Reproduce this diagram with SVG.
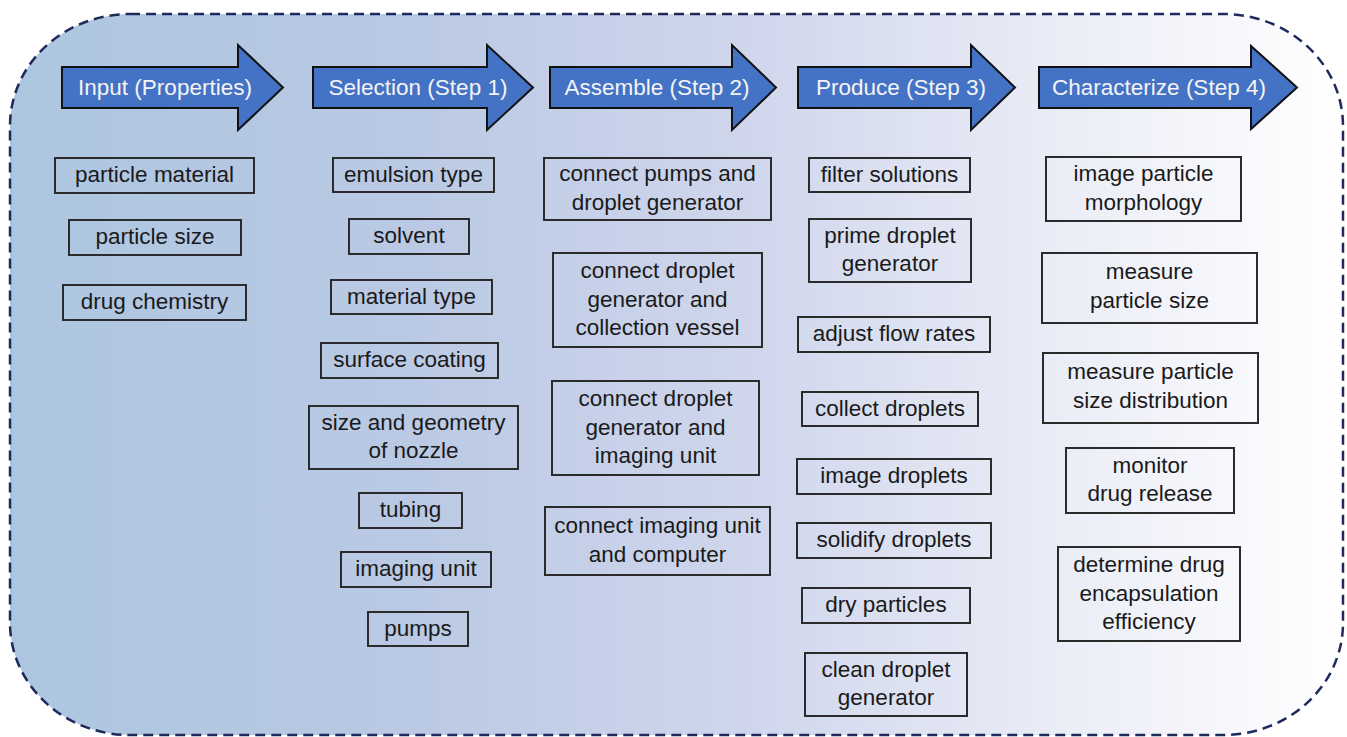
<svg xmlns="http://www.w3.org/2000/svg" width="1347" height="737" viewBox="0 0 1347 737">
<defs>
<linearGradient id="bg" x1="0" y1="0" x2="1" y2="0">
<stop offset="0" stop-color="#adc6e0"/>
<stop offset="0.3" stop-color="#bac9e4"/>
<stop offset="0.55" stop-color="#cfd6ec"/>
<stop offset="0.8" stop-color="#eceef7"/>
<stop offset="1" stop-color="#ffffff"/>
</linearGradient>
</defs>
<style>
.frame{fill:url(#bg);stroke:#1e2a5c;stroke-width:2.5;stroke-dasharray:10 6}
.arrow{fill:#4472c4;stroke:#111111;stroke-width:2;stroke-linejoin:miter}
.atxt{font-family:"Liberation Sans",Arial,sans-serif;font-size:22.5px;fill:#f4f4f4;text-anchor:middle}
.box{fill:none;stroke:#2b2b2b;stroke-width:2}
.btxt{font-family:"Liberation Sans",Arial,sans-serif;font-size:22.5px;fill:#1a1a1a;text-anchor:middle}
</style>
<rect width="1347" height="737" fill="#ffffff"/>
<rect class="frame" x="10" y="14" width="1333" height="721" rx="120" ry="112"/>
<g id="connectors"/>
<g id="step-input"><path class="arrow" d="M62,67 H238 V45 L283,87.5 L238,130 V108 H62 Z"/><text class="atxt" x="165" y="95">Input (Properties)</text></g>
<g id="step-selection"><path class="arrow" d="M313,67 H487 V45 L533,87.5 L487,130 V108 H313 Z"/><text class="atxt" x="418" y="95">Selection (Step 1)</text></g>
<g id="step-assemble"><path class="arrow" d="M550,67 H732 V45 L776,87.5 L732,130 V108 H550 Z"/><text class="atxt" x="657" y="95">Assemble (Step 2)</text></g>
<g id="step-produce"><path class="arrow" d="M798,67 H971 V45 L1015,87.5 L971,130 V108 H798 Z"/><text class="atxt" x="901" y="95">Produce (Step 3)</text></g>
<g id="step-characterize"><path class="arrow" d="M1039,67 H1251 V46 L1297,87.5 L1251,129 V108 H1039 Z"/><text class="atxt" x="1159" y="95">Characterize (Step 4)</text></g>

<g id="particle-material"><rect class="box" x="55" y="158" width="199" height="35"/><text class="btxt" x="154.5" y="182">particle material</text></g>
<g id="particle-size"><rect class="box" x="69" y="220" width="172" height="35"/><text class="btxt" x="155" y="244">particle size</text></g>
<g id="drug-chemistry"><rect class="box" x="63" y="285" width="183" height="35"/><text class="btxt" x="154.5" y="309">drug chemistry</text></g>

<g id="emulsion-type"><rect class="box" x="333" y="158" width="161" height="34"/><text class="btxt" x="413.5" y="181.5">emulsion type</text></g>
<g id="solvent"><rect class="box" x="349" y="219" width="120" height="35"/><text class="btxt" x="409" y="243">solvent</text></g>
<g id="material-type"><rect class="box" x="331" y="280" width="161" height="34"/><text class="btxt" x="411.5" y="303.5">material type</text></g>
<g id="surface-coating"><rect class="box" x="321" y="343" width="177" height="35"/><text class="btxt" x="409.5" y="367">surface coating</text></g>
<g id="nozzle"><rect class="box" x="309" y="406" width="209" height="63"/><text class="btxt" x="413.5" y="429.5">size and geometry</text><text class="btxt" x="413.5" y="458">of nozzle</text></g>
<g id="tubing"><rect class="box" x="359" y="493" width="103" height="35"/><text class="btxt" x="410.5" y="517">tubing</text></g>
<g id="imaging-unit"><rect class="box" x="341" y="552" width="150" height="35"/><text class="btxt" x="416" y="576">imaging unit</text></g>
<g id="pumps"><rect class="box" x="368" y="612" width="100" height="34"/><text class="btxt" x="418" y="635.5">pumps</text></g>

<g id="connect-pumps"><rect class="box" x="544" y="158" width="227" height="62"/><text class="btxt" x="657.5" y="181.25">connect pumps and</text><text class="btxt" x="657.5" y="209.75">droplet generator</text></g>
<g id="connect-collection"><rect class="box" x="553" y="253" width="209" height="94"/><text class="btxt" x="657.5" y="278">connect droplet</text><text class="btxt" x="657.5" y="306.5">generator and</text><text class="btxt" x="657.5" y="335">collection vessel</text></g>
<g id="connect-imaging"><rect class="box" x="552" y="381" width="207" height="94"/><text class="btxt" x="655.5" y="406">connect droplet</text><text class="btxt" x="655.5" y="434.5">generator and</text><text class="btxt" x="655.5" y="463">imaging unit</text></g>
<g id="connect-computer"><rect class="box" x="545" y="507" width="225" height="68"/><text class="btxt" x="657.5" y="533.25">connect imaging unit</text><text class="btxt" x="657.5" y="561.75">and computer</text></g>

<g id="filter-solutions"><rect class="box" x="809" y="158" width="161" height="34"/><text class="btxt" x="889.5" y="181.5">filter solutions</text></g>
<g id="prime-generator"><rect class="box" x="809" y="219" width="162" height="63"/><text class="btxt" x="890" y="242.75">prime droplet</text><text class="btxt" x="890" y="271.25">generator</text></g>
<g id="adjust-flow"><rect class="box" x="798" y="317" width="192" height="35"/><text class="btxt" x="894" y="341">adjust flow rates</text></g>
<g id="collect-droplets"><rect class="box" x="802" y="392" width="176" height="34"/><text class="btxt" x="890" y="415.5">collect droplets</text></g>
<g id="image-droplets"><rect class="box" x="797" y="459" width="194" height="35"/><text class="btxt" x="894" y="483">image droplets</text></g>
<g id="solidify-droplets"><rect class="box" x="797" y="523" width="194" height="35"/><text class="btxt" x="894" y="547">solidify droplets</text></g>
<g id="dry-particles"><rect class="box" x="802" y="588" width="168" height="35"/><text class="btxt" x="886" y="612">dry particles</text></g>
<g id="clean-generator"><rect class="box" x="805" y="653" width="162" height="63"/><text class="btxt" x="886" y="676.75">clean droplet</text><text class="btxt" x="886" y="705.25">generator</text></g>

<g id="image-morphology"><rect class="box" x="1046" y="157" width="195" height="64"/><text class="btxt" x="1143.5" y="181.25">image particle</text><text class="btxt" x="1143.5" y="209.75">morphology</text></g>
<g id="measure-size"><rect class="box" x="1042" y="253" width="215" height="70"/><text class="btxt" x="1149.5" y="279">measure</text><text class="btxt" x="1149.5" y="307.5">particle size</text></g>
<g id="measure-distribution"><rect class="box" x="1043" y="353" width="215" height="70"/><text class="btxt" x="1150.5" y="379">measure particle</text><text class="btxt" x="1150.5" y="407.5">size distribution</text></g>
<g id="monitor-release"><rect class="box" x="1066" y="448" width="168" height="65"/><text class="btxt" x="1150" y="472.75">monitor</text><text class="btxt" x="1150" y="501.25">drug release</text></g>
<g id="encapsulation"><rect class="box" x="1058" y="547" width="182" height="94"/><text class="btxt" x="1149" y="572">determine drug</text><text class="btxt" x="1149" y="600.5">encapsulation</text><text class="btxt" x="1149" y="629">efficiency</text></g>
</svg>
